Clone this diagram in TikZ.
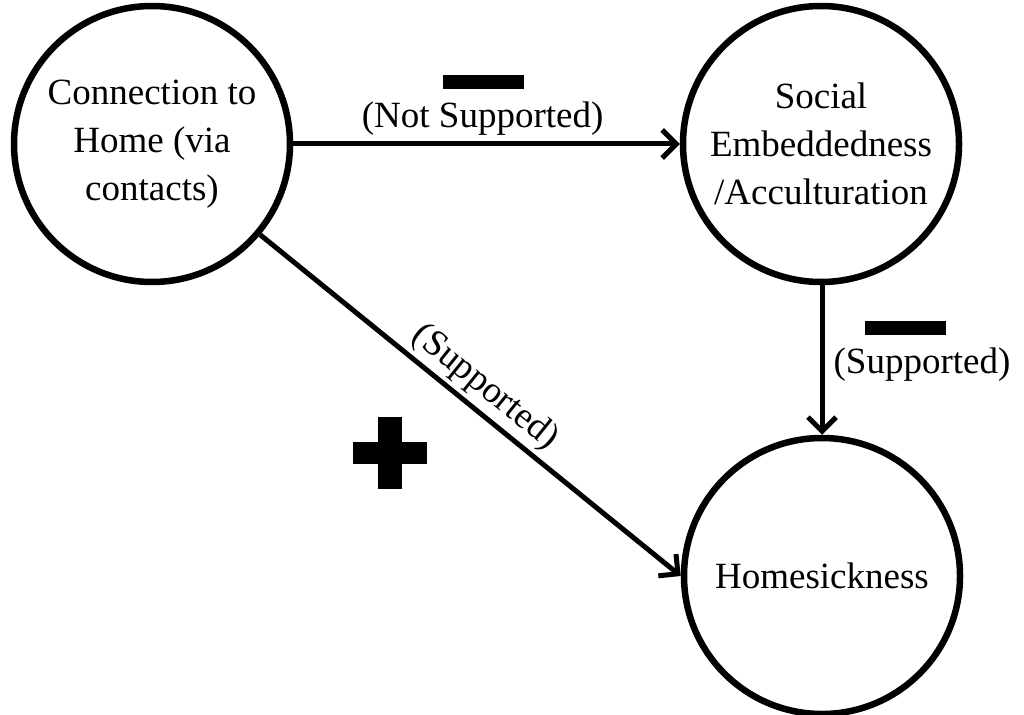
\documentclass[tikz,border=0pt]{standalone}
\usepackage{fontspec}
\setmainfont{Liberation Serif}
\usetikzlibrary{arrows.meta}
\begin{document}
\begin{tikzpicture}[x=1pt,y=-1pt,
  every node/.style={font=\fontsize{37}{48}\selectfont},
  concept/.style={circle,draw,line width=6.5pt,minimum size=276pt,inner sep=0pt,align=center},
  link/.style={line width=5pt,-{Straight Barb[length=14pt,width=28pt]}},
  signbar/.style={fill=black,inner sep=0pt,minimum width=81pt,minimum height=14pt},
  lbl/.style={inner sep=4pt}
]
\useasboundingbox (0,0) rectangle (1024,714);
\node[concept] (L) at (152,144) {Connection to\\Home (via\\contacts)};
\node[concept] (R) at (821,144) {Social\\Embeddedness\\/Acculturation};
\node[concept] (H) at (822,576) {Homesickness};

\draw[link] (L) -- node[lbl,above,pos=0.49,yshift=2pt] (t1) {(Not Supported)} (R);
\draw[link] (R.south -| 822,0) -- (H.north -| 822,0);
\draw[link] (L.-40) -- node[lbl,sloped,above,pos=0.5] (t2) {(Supported)} (H.west);

\node[anchor=base] (t3) at (922,373) {(Supported)};

\node[signbar] (m1) at (483.5,82) {};
\node[signbar] (m2) at (905.5,327.5) {};
\fill (378,417) rectangle (402,489);
\fill (353,442) rectangle (427,464);
\end{tikzpicture}
\end{document}
